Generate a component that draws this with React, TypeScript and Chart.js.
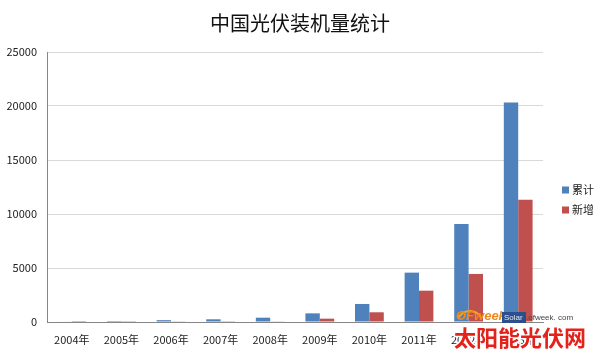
import React, { useEffect, useRef } from "react";
import { Chart, registerables } from "chart.js";

Chart.register(...registerables);

const TITLE = "中国光伏装机量统计";
const categories = ["2004年", "2005年", "2006年", "2007年", "2008年", "2009年", "2010年", "2011年", "2012年", "2013年"];
const cumulative = [50, 90, 170, 250, 400, 800, 1670, 4570, 9080, 20330];
const added = [10, 20, 30, 70, 60, 310, 900, 2900, 4450, 11310];
const seriesNames = ["累计", "新增"];
const seriesColors = ["#4f81bd", "#c0504d"];
const yTicks = [0, 5000, 10000, 15000, 20000, 25000];

const FONT = "'Noto Sans CJK SC', 'Liberation Sans', sans-serif";

const overlayPlugin = {
  id: "overlay",
  afterDraw(chart: any) {
    const ctx = chart.ctx as CanvasRenderingContext2D;
    const area = chart.chartArea;
    ctx.save();
    // title
    ctx.fillStyle = "#111";
    ctx.font = `20px ${FONT}`;
    ctx.textAlign = "center";
    ctx.textBaseline = "middle";
    ctx.fillText(TITLE, 300, 23);
    // legend
    ctx.font = `11px ${FONT}`;
    ctx.textAlign = "left";
    chart.data.datasets.forEach((ds: any, i: number) => {
      const y = (area.top + area.bottom) / 2 + 3 + i * 20;
      ctx.fillStyle = ds.backgroundColor;
      ctx.fillRect(area.right + 19, y - 3.5, 7, 7);
      ctx.fillStyle = "#222";
      ctx.fillText(ds.label, area.right + 29, y);
    });
    // watermark
    const wx = area.right - 87;
    const wy = area.bottom;
    ctx.strokeStyle = "#f5a623";
    ctx.lineWidth = 2;
    ctx.beginPath();
    ctx.arc(wx + 14, wy + 2, 13, Math.PI * 1.15, Math.PI * 1.85);
    ctx.stroke();
    ctx.fillStyle = "#f08a1c";
    ctx.font = `italic bold 13px 'Liberation Sans', sans-serif`;
    ctx.textBaseline = "alphabetic";
    ctx.fillText("OFweek", wx, wy - 2);
    ctx.fillStyle = "#2b4f8c";
    ctx.fillRect(wx + 46, wy - 10, 24, 11);
    ctx.font = `8px 'Liberation Sans', sans-serif`;
    ctx.fillStyle = "#dfe6f2";
    ctx.fillText("Solar", wx + 48, wy - 2);
    ctx.fillStyle = "#444";
    ctx.fillText(".ofweek. com", wx + 70, wy - 2);
    ctx.font = `bold 22px ${FONT}`;
    ctx.lineWidth = 3;
    ctx.strokeStyle = "#ffffff";
    ctx.strokeText("太阳能光伏网", wx - 2, wy + 24);
    ctx.fillStyle = "#e3221c";
    ctx.fillText("太阳能光伏网", wx - 2, wy + 24);
    ctx.restore();
  },
};

export default function App() {
  const ref = useRef<HTMLCanvasElement | null>(null);
  useEffect(() => {
    document.body.style.margin = "0";
    const canvas = ref.current;
    if (!canvas) return;
    const chart = new Chart(canvas, {
      type: "bar",
      data: {
        labels: categories,
        datasets: [
          { label: seriesNames[0], data: cumulative, backgroundColor: seriesColors[0], categoryPercentage: 0.58, barPercentage: 1 },
          { label: seriesNames[1], data: added, backgroundColor: seriesColors[1], categoryPercentage: 0.58, barPercentage: 1 },
        ],
      },
      options: {
        animation: false,
        responsive: false,
        devicePixelRatio: 1,
        layout: { padding: { top: 52, right: 57, left: 0, bottom: 0 } },
        plugins: {
          legend: { display: false },
          title: { display: false },
          tooltip: { enabled: false },
        },
        scales: {
          x: {
            grid: { display: false, drawTicks: false },
            border: { color: "#868686", width: 1 },
            ticks: { color: "#222", font: { size: 11, family: FONT }, padding: 11, maxRotation: 0 },
            afterFit: (s: any) => { s.height = 36; },
          },
          y: {
            min: 0,
            max: 25000,
            grid: { color: "#d9d9d9", drawTicks: false },
            border: { color: "#868686", width: 1 },
            afterBuildTicks: (s: any) => { s.ticks = yTicks.map((v) => ({ value: v })); },
            ticks: { color: "#222", font: { size: 11, family: FONT }, padding: 10, callback: (v: any) => String(v) },
            afterFit: (s: any) => { s.width = 47; },
          },
        },
      },
      plugins: [overlayPlugin],
    });
    return () => chart.destroy();
  }, []);
  return (
    <div style={{ width: 600, height: 358 }}>
      <canvas ref={ref} width={600} height={358} style={{ width: 600, height: 358 }} />
    </div>
  );
}
